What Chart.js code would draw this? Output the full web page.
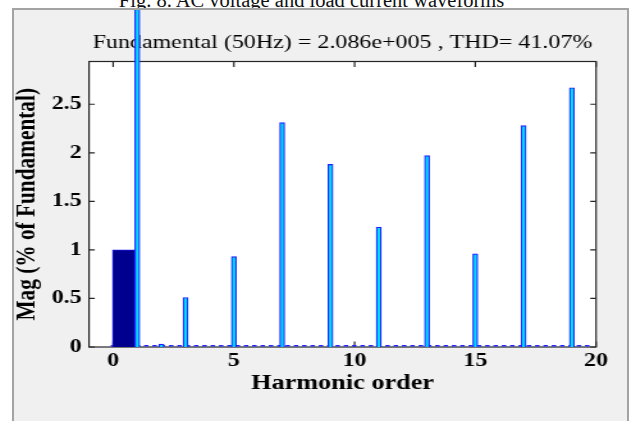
<!DOCTYPE html>
<html lang="en">
<head>
<meta charset="UTF-8">
<meta name="viewport" content="width=device-width, initial-scale=1.0">
<title>Harmonic spectrum</title>
<script src="https://cdn.jsdelivr.net/npm/chart.js"></script>
<style>
  html, body { margin: 0; padding: 0; background: #fff; overflow: hidden; }
  body { width: 632px; height: 421px; position: relative; font-family: "Liberation Serif", serif; }
  .caption { position: absolute; left: 0; top: -10.5px; width: 623px; text-align: center;
             font-size: 20.5px; line-height: 1; color: #111; }
  .frame { position: absolute; left: 12px; top: 8px; width: 613px; height: 430px;
           border: 2px solid #a3a3a3; background: #f0f0f0; }
  /* the figure is widened sideways, text included */
  .stretch { position: absolute; left: 0; top: 0; width: 479px; height: 411px;
             transform: scaleX(1.28); transform-origin: 0 0; }
</style>
</head>
<body>
  <div class="caption">Fig. 8. AC voltage and load current waveforms</div>
  <div class="frame">
    <div class="stretch"><canvas id="fftChart" width="479" height="411"></canvas></div>
  </div>

<script>
// harmonic spectrum, magnitudes in % of fundamental
const harmonicOrder = [1, 2, 3, 5, 7, 9, 11, 13, 15, 17, 19];
const harmonicMag   = [100, 0.03, 0.51, 0.93, 2.31, 1.88, 1.235, 1.97, 0.96, 2.28, 2.67];

// DC component (wide dark bar next to the fundamental)
const dcOrder = [0.44];
const dcMag   = [1.0];

// interharmonic residue along the floor
const floorOrder = [-0.1, 19.8];
const floorMag   = [0.013, 0.013];

const xTicks = [0, 5, 10, 15, 20];
const yTicks = [0, 0.5, 1, 1.5, 2, 2.5];

const serif = "'Liberation Serif', 'Times New Roman', serif";

function points(xs, ys) {
    return xs.map((x, i) => ({ x: x, y: ys[i] }));
}

// white axes area, box outline and inward tick marks on all four sides
const axesBox = {
    id: 'axesBox',
    beforeDraw(chart) {
        const { ctx, chartArea: a } = chart;
        ctx.save();
        ctx.fillStyle = '#ffffff';
        ctx.fillRect(a.left, a.top, a.width, a.height);
        ctx.restore();
    },
    beforeDatasetsDraw(chart) {
        const { ctx, chartArea: a, scales } = chart;
        ctx.save();
        ctx.strokeStyle = '#262626';
        ctx.lineWidth = 1.2;
        ctx.strokeRect(a.left, a.top, a.width, a.height);
        ctx.beginPath();
        scales.x.ticks.forEach(t => {
            const px = scales.x.getPixelForValue(t.value);
            ctx.moveTo(px, a.bottom); ctx.lineTo(px, a.bottom - 5.5);
            ctx.moveTo(px, a.top);    ctx.lineTo(px, a.top + 5.5);
        });
        scales.y.ticks.forEach(t => {
            const py = scales.y.getPixelForValue(t.value);
            ctx.moveTo(a.left, py);  ctx.lineTo(a.left + 4.5, py);
            ctx.moveTo(a.right, py); ctx.lineTo(a.right - 4.5, py);
        });
        ctx.stroke();
        ctx.restore();
    }
};

const ctx = document.getElementById('fftChart').getContext('2d');
new Chart(ctx, {
    type: 'bar',
    data: {
        datasets: [{
            type: 'line',
            data: points(floorOrder, floorMag),
            borderColor: '#2424ff',
            borderWidth: 1.6,
            borderDash: [3.5, 3],
            pointRadius: 0,
            order: 3
        }, {
            data: points(dcOrder, dcMag),
            backgroundColor: '#00008f',
            borderColor: '#1a1ae0',
            borderWidth: 1,
            barThickness: 17.7,
            grouped: false,
            order: 2
        }, {
            data: points(harmonicOrder, harmonicMag),
            backgroundColor: '#00dcff',
            borderColor: '#2020ff',
            borderWidth: 1.2,
            barThickness: 3.9,
            grouped: false,
            clip: false,
            order: 1
        }]
    },
    options: {
        responsive: false,
        animation: false,
        layout: { padding: { left: 0, right: 24.3, top: 0, bottom: 0 } },
        plugins: {
            legend: { display: false },
            tooltip: { enabled: false },
            title: {
                display: true,
                fullSize: false,
                text: 'Fundamental (50Hz) = 2.086e+005 , THD= 41.07%',
                color: '#000',
                font: { family: serif, size: 18.75, weight: 'normal', lineHeight: 1.2 },
                padding: { top: 21.75, bottom: 7.25 }
            }
        },
        scales: {
            x: {
                type: 'linear',
                min: -1,
                max: 20,
                offset: false,
                afterBuildTicks: s => { s.ticks = xTicks.map(v => ({ value: v })); },
                afterFit: s => { s.height = 74; },
                grid: { display: false, drawTicks: false },
                border: { display: false },
                ticks: {
                    padding: 3, maxRotation: 0, autoSkip: false, color: '#000',
                    callback: v => String(v),
                    font: { family: serif, size: 18.75, weight: 'bold' }
                },
                title: {
                    display: true, text: 'Harmonic order', color: '#000',
                    font: { family: serif, size: 20.5, weight: 'bold', lineHeight: 1 },
                    padding: { top: 0, bottom: 26.75 }
                }
            },
            y: {
                min: 0,
                max: 2.94,
                afterBuildTicks: s => { s.ticks = yTicks.map(v => ({ value: v })); },
                afterFit: s => { s.width = 58.6; },
                grid: { display: false, drawTicks: false },
                border: { display: false },
                ticks: {
                    padding: 5.7, color: '#000',
                    callback: v => String(v),
                    font: { family: serif, size: 18.75, weight: 'bold' }
                },
                title: {
                    display: true, text: 'Mag (% of Fundamental)', color: '#000',
                    font: { family: serif, size: 21.3, weight: 'bold', lineHeight: 1 },
                    padding: { top: 0, bottom: 0 }
                }
            }
        }
    },
    plugins: [axesBox]
});
</script>
</body>
</html>
